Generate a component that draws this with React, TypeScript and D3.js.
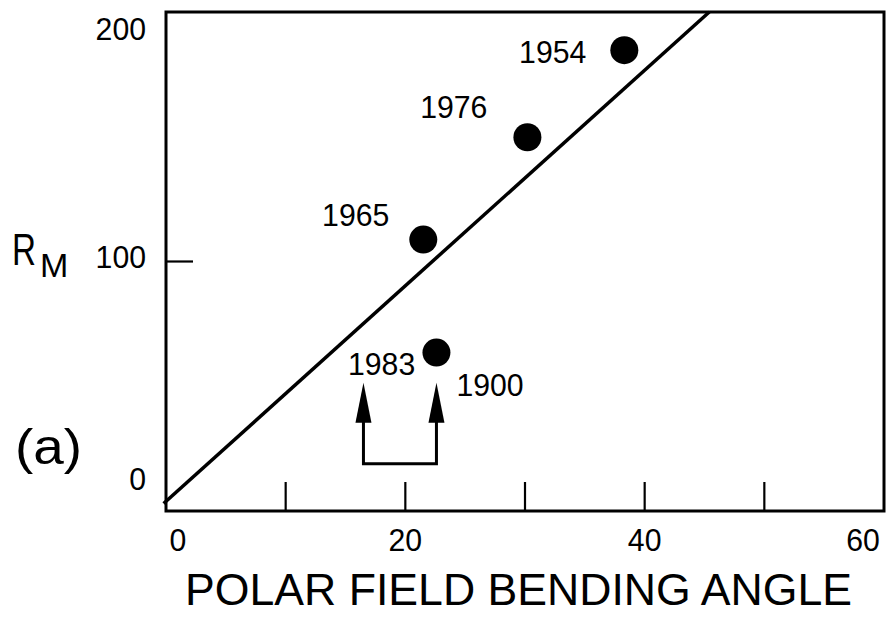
import React from "react";
import * as d3 from "d3";

const years = ["1954", "1976", "1965", "1900"];
const angles = [38.3, 30.2, 21.5, 22.6];
const rmValues = [184.7, 149.8, 108.8, 63.5];

const fitAngles = [-0.2, 45.4];
const fitValues = [3, 200];

const arrowAngles = [16.5, 22.6];
const arrowTip = 51.4;
const arrowBase = 18.9;
const arrowLabel = "1983";

const xTickValues = [0, 10, 20, 30, 40, 50, 60];
const xTickLabels = ["0", "20", "40", "60"];
const yTickLabels = ["0", "100", "200"];

const W = 886;
const H = 618;
const FONT = "'Liberation Sans', Arial, Helvetica, sans-serif";
const DIGIT_W = 16.8;
const NUM_FS = 32;

export default function App() {
  const x = d3.scaleLinear().domain([0, 60]).range([166, 884]);
  const y = d3.scaleLinear().domain([0, 200]).range([511, 12]);

  const line = d3
    .line<number>()
    .x((_, i) => x(fitAngles[i]))
    .y((d) => y(d));

  const labelOffsets: Record<string, [number, number, string]> = {
    "1954": [-38, 13, "end"],
    "1976": [-40, -19, "end"],
    "1965": [-34, -14, "end"],
    "1900": [20, 43, "start"],
  };

  const xLabelPos: Record<string, number> = { "0": 178, "20": x(20), "40": x(40), "60": 863 };
  const yLabelPos: Record<string, number> = { "0": 490, "100": y(100) + 6, "200": 40 };

  const headLen = 40;
  const headHalf = 8;

  const num = (t: string) => ({ fontSize: NUM_FS, textLength: t.length * DIGIT_W, lengthAdjust: "spacingAndGlyphs" as any });

  return (
    <svg
      width={W}
      height={H}
      style={{ position: "absolute", left: 0, top: 0, background: "#fff" }}
      fontFamily={FONT}
    >
      <rect x={0} y={0} width={W} height={H} fill="#fff" />
      <rect
        x={x(0)}
        y={y(200)}
        width={x(60) - x(0)}
        height={y(0) - y(200)}
        fill="none"
        stroke="#000"
        strokeWidth={3}
      />
      {xTickValues.slice(1, -1).map((v) => (
        <line key={v} x1={x(v)} x2={x(v)} y1={y(0)} y2={y(0) - 29} stroke="#000" strokeWidth={2.2} />
      ))}
      <line x1={x(0)} x2={x(0) + 27} y1={y(100)} y2={y(100)} stroke="#000" strokeWidth={2.2} />

      {xTickLabels.map((t) => (
        <text key={t} x={xLabelPos[t]} y={551} {...num(t)} textAnchor="middle" fill="#000">
          {t}
        </text>
      ))}
      {yTickLabels.map((t) => (
        <text key={t} x={146} y={yLabelPos[t]} {...num(t)} textAnchor="end" fill="#000">
          {t}
        </text>
      ))}

      <path d={line(fitValues) || ""} fill="none" stroke="#000" strokeWidth={3.5} />

      {years.map((yr, i) => {
        const cx = x(angles[i]);
        const cy = y(rmValues[i]);
        const [dx, dy, anchor] = labelOffsets[yr];
        return (
          <g key={yr}>
            <circle cx={cx} cy={cy} r={14} fill="#000" />
            <text x={cx + dx} y={cy + dy} {...num(yr)} textAnchor={anchor as any} fill="#000">
              {yr}
            </text>
          </g>
        );
      })}

      <path
        d={`M${x(arrowAngles[0])},${y(arrowTip) + headLen - 4} L${x(arrowAngles[0])},${y(arrowBase)} L${x(arrowAngles[1])},${y(arrowBase)} L${x(arrowAngles[1])},${y(arrowTip) + headLen - 4}`}
        fill="none"
        stroke="#000"
        strokeWidth={3}
      />
      {arrowAngles.map((a) => (
        <path
          key={a}
          d={`M${x(a)},${y(arrowTip)} L${x(a) - headHalf},${y(arrowTip) + headLen} L${x(a) + headHalf},${y(arrowTip) + headLen} Z`}
          fill="#000"
        />
      ))}
      <text x={348} y={375} {...num(arrowLabel)} fill="#000">
        {arrowLabel}
      </text>

      <text x={185} y={605} fontSize={45} textLength={667} lengthAdjust="spacingAndGlyphs" fill="#000">
        POLAR FIELD BENDING ANGLE
      </text>
      <text x={12} y={265} fontSize={44} textLength={24} lengthAdjust="spacingAndGlyphs" fill="#000">
        R
      </text>
      <text x={40} y={277} fontSize={34} fill="#000">
        M
      </text>
      <text x={15} y={464} fontSize={50} textLength={67} lengthAdjust="spacingAndGlyphs" fill="#000">
        (a)
      </text>
    </svg>
  );
}
